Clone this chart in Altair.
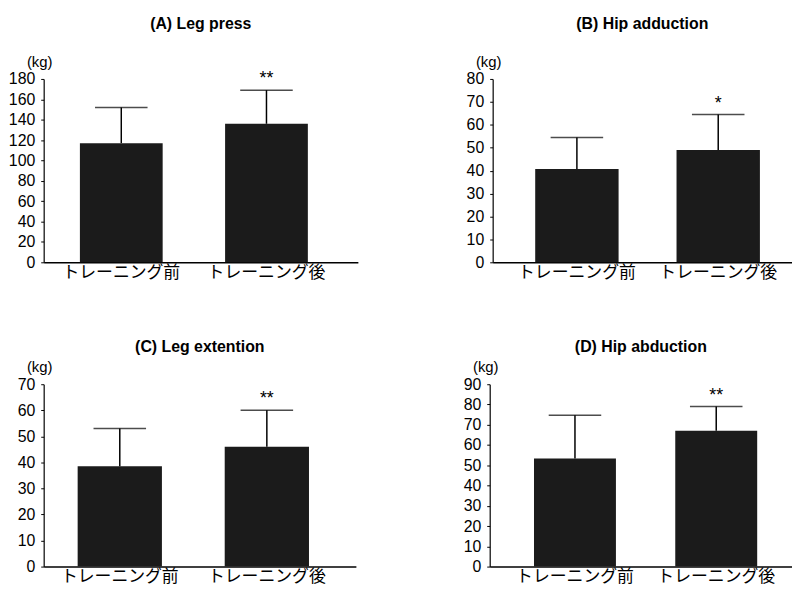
import altair as alt
import pandas as pd

# ---- data ----
conditions = ["トレーニング前", "トレーニング後"]

titles = ["(A) Leg press", "(B) Hip adduction", "(C) Leg extention", "(D) Hip abduction"]
means_A = [117, 136]
sd_A = [35, 33]
means_B = [40.7, 49.0]
sd_B = [13.8, 15.5]
means_C = [38.5, 46.0]
sd_C = [14.5, 14.0]
means_D = [53.4, 67.1]
sd_D = [21.3, 11.9]
stars_A = ["", "**"]
stars_B = ["", "*"]
stars_C = ["", "**"]
stars_D = ["", "**"]
ymax = [180, 80, 70, 90]
ystep = [20, 10, 10, 10]

BAR = "#1b1b1b"
JP = "Noto Sans CJK JP"
LAT = "Liberation Sans"


def panel(title, means, sds, stars, top, step, width, height, p_in, p_out, align, toff):
    df = pd.DataFrame({
        "cond": conditions,
        "mean": means,
        "upper": [m + s for m, s in zip(means, sds)],
        "star": stars,
    })
    xscale = alt.Scale(paddingInner=p_in, paddingOuter=p_out, align=align)
    xaxis = alt.Axis(title=None, labelAngle=0, ticks=False, labelFont=JP,
                     labelFontSize=17, labelColor="black", labelPadding=2,
                     domainColor="black", domainWidth=1.5)
    yscale = alt.Scale(domain=[0, top], nice=False)
    yaxis = alt.Axis(title=None, values=list(range(0, top + 1, step)), grid=False,
                     tickSize=3, tickColor="black", domainColor="black",
                     domainWidth=1.2, labelFont=LAT, labelFontSize=16,
                     labelColor="black", labelPadding=6, labelOverlap=False,
                     labelFlush=False)

    def X():
        return alt.X("cond:N", sort=conditions, scale=xscale, axis=xaxis)

    def Y(field):
        return alt.Y(field, type="quantitative", scale=yscale, axis=yaxis)

    base = alt.Chart(df)
    bars = base.mark_bar(color=BAR).encode(x=X(), y=Y("mean"))
    err = base.mark_rule(color="black", strokeWidth=1.5).encode(
        x=X(), y=Y("mean"), y2="upper:Q")
    cap = base.mark_tick(color="black", thickness=1.5, size=53, orient="horizontal").encode(
        x=X(), y=Y("upper"))
    star = base.mark_text(font=LAT, fontSize=18, dy=-11, baseline="middle").encode(
        x=X(), y=Y("upper"), text="star:N")
    kg = alt.Chart(pd.DataFrame({"u": ["(kg)"]})).mark_text(
        font=LAT, fontSize=15, align="center", baseline="middle").encode(
        x=alt.value(-4), y=alt.value(-17), text="u:N")
    return alt.layer(bars, err, cap, star, kg).properties(
        width=width, height=height,
        title=alt.TitleParams(title, font=LAT, fontSize=16, fontWeight="bold",
                              color="black", anchor="middle", frame="group", offset=toff),
    )


pA = panel(titles[0], means_A, sd_A, stars_A, ymax[0], ystep[0], 317, 185, 0.43, 0.297, 0.42, 23)
pB = panel(titles[1], means_B, sd_B, stars_B, ymax[1], ystep[1], 302, 185, 0.41, 0.264, 0.57, 23)
pC = panel(titles[2], means_C, sd_C, stars_C, ymax[2], ystep[2], 315, 184, 0.427, 0.275, 0.42, 6)
pD = panel(titles[3], means_D, sd_D, stars_D, ymax[3], ystep[3], 305, 184, 0.42, 0.28, 0.56, 6)

row1 = alt.hconcat(pA, pB, spacing=109)
row2 = alt.hconcat(pC, pD, spacing=108)
chart = alt.vconcat(row1, row2, spacing=59).properties(
    padding={"left": 0, "top": 6, "right": 0, "bottom": 0}
).configure(background="white").configure_view(stroke=None)

chart.save("out.html", embed_options={"renderer": "svg", "actions": False})
